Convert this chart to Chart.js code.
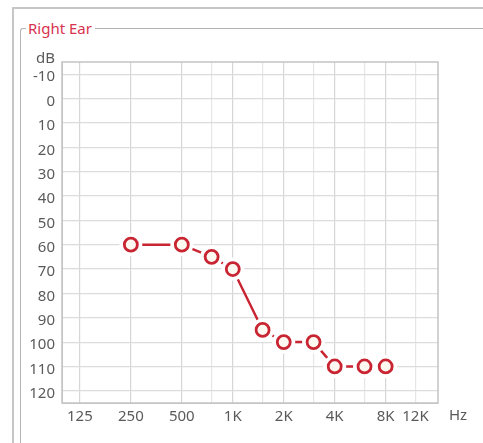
<!DOCTYPE html>
<html>
<head>
<meta charset="utf-8">
<script src="https://cdn.jsdelivr.net/npm/chart.js@4/dist/chart.umd.min.js"></script>
<style>
  html, body { margin: 0; padding: 0; background: #ffffff; width: 483px; height: 443px; overflow: hidden; }
  #wrap { position: relative; width: 483px; height: 443px; }
  #outer { position: absolute; left: 12px; top: 7px; width: 500px; height: 460px; border-left: 2px solid #c6c6c6; border-top: 2px solid #c6c6c6; }
  #group { position: absolute; left: 20px; top: 28px; width: 500px; height: 450px; border-left: 1px solid #b4b4b4; border-top: 1px solid #b4b4b4; border-top-left-radius: 3px; }
  #title { position: absolute; left: 26px; top: 18px; padding: 0 3px 0 2px; background: #fff; color: #d8324e; font: 15px "Noto Sans", sans-serif; line-height: 20px; }
  canvas { position: absolute; left: 0; top: 0; }
</style>
</head>
<body>
<div id="wrap">
  <div id="outer"></div>
  <div id="group"></div>
  <div id="title">Right Ear</div>
  <canvas id="c" width="483" height="443"></canvas>
</div>
<script>
// ---- data ----
const freqs      = [250, 500, 750, 1000, 1500, 2000, 3000, 4000, 6000, 8000];
const thresholds = [60, 60, 65, 70, 95, 100, 100, 110, 110, 110];
const xTickValues = [125, 250, 500, 1000, 2000, 4000, 8000, 12000];
const xTickLabels = ['125', '250', '500', '1K', '2K', '4K', '8K', '12K'];
const xMinorGrid  = [750, 1500, 3000, 6000];
const yTicks = [-10, 0, 10, 20, 30, 40, 50, 60, 70, 80, 90, 100, 110, 120];

const points = freqs.map((f, i) => ({ x: f, y: thresholds[i] }));
const labelFor = {};
xTickValues.forEach((v, i) => { labelFor[v] = xTickLabels[i]; });
const majorSet = new Set([125, 250, 500, 1000, 2000, 4000, 8000]);

const FONT = { family: '"Noto Sans", sans-serif', size: 15 };
const TXT = '#5a5a5a';
const RED = '#c82431';

const framePlugin = {
  id: 'frame',
  beforeDatasetsDraw(chart) {
    const { ctx, chartArea: a } = chart;
    ctx.save();
    ctx.strokeStyle = '#c4c4c4';
    ctx.lineWidth = 1.5;
    ctx.strokeRect(a.left, a.top, a.right - a.left, a.bottom - a.top);
    ctx.restore();
  },
  afterDraw(chart) {
    const { ctx, chartArea: a } = chart;
    ctx.save();
    ctx.fillStyle = TXT;
    ctx.font = '15px "Noto Sans", sans-serif';
    ctx.textBaseline = 'middle';
    ctx.textAlign = 'right';
    ctx.fillText('dB', a.left - 7, a.top - 3);
    ctx.textAlign = 'center';
    ctx.fillText('Hz', a.right + 20, a.bottom + 13);
    ctx.restore();
  }
};

new Chart(document.getElementById('c'), {
  type: 'line',
  data: {
    datasets: [
      {
        label: 'line',
        data: points,
        borderColor: RED,
        borderWidth: 2.5,
        pointRadius: 0,
        fill: false,
        tension: 0,
        order: 3
      },
      {
        label: 'halo',
        data: points,
        showLine: false,
        pointRadius: 11.5,
        pointBackgroundColor: '#ffffff',
        pointBorderWidth: 0,
        pointBorderColor: 'rgba(0,0,0,0)',
        order: 2
      },
      {
        label: 'Right Ear',
        data: points,
        showLine: false,
        pointRadius: 6.5,
        pointBorderWidth: 2.8,
        pointBorderColor: RED,
        pointBackgroundColor: '#fdf9f0',
        order: 1
      }
    ]
  },
  options: {
    responsive: false,
    animation: false,
    devicePixelRatio: 1,
    layout: { padding: { top: 62, right: 45, left: 0, bottom: 0 } },
    plugins: { legend: { display: false }, tooltip: { enabled: false } },
    scales: {
      x: {
        type: 'logarithmic',
        position: 'bottom',
        min: 98,
        max: 16300,
        afterBuildTicks(scale) {
          scale.ticks = [...xTickValues, ...xMinorGrid].sort((a, b) => a - b).map(v => ({ value: v }));
        },
        afterFit(scale) { scale.height = 40; },
        ticks: {
          autoSkip: false,
          maxRotation: 0,
          padding: 5,
          color: TXT,
          font: FONT,
          callback: (v) => labelFor[v] || ''
        },
        grid: {
          drawTicks: false,
          color: (ctx) => (ctx.tick && majorSet.has(ctx.tick.value)) ? '#d6d6d6' : '#e6e6e6',
          lineWidth: 1.2
        },
        border: { display: true, color: '#c4c4c4' }
      },
      y: {
        type: 'linear',
        reverse: true,
        min: -15,
        max: 125,
        afterBuildTicks(scale) {
          scale.ticks = yTicks.map(v => ({ value: v }));
        },
        afterFit(scale) { scale.width = 62; },
        ticks: {
          autoSkip: false,
          padding: 7,
          labelOffset: 3,
          color: TXT,
          font: FONT
        },
        grid: {
          drawTicks: false,
          color: '#dcdcdc',
          lineWidth: 1.2
        },
        border: { display: true, color: '#c4c4c4' }
      }
    }
  },
  plugins: [framePlugin]
});
</script>
</body>
</html>
